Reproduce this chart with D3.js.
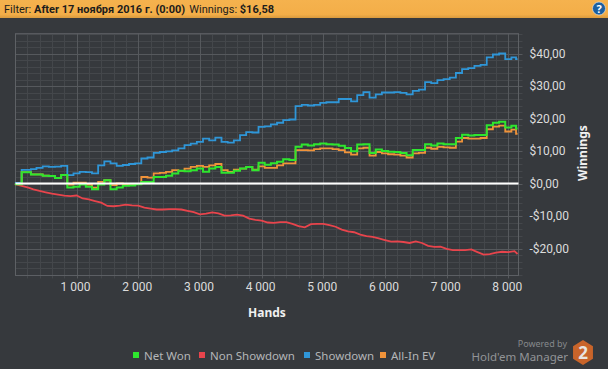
<!DOCTYPE html>
<html>
<head>
<meta charset="utf-8">
<script src="https://cdn.jsdelivr.net/npm/d3@7"></script>
<style>
  html, body { margin: 0; padding: 0; background: #36393d; }
  svg { display: block; font-family: "Noto Sans", sans-serif; }
</style>
</head>
<body>
<div id="chart"></div>
<script>
//data
var hands = [0,220,300,400,500,600,700,800,900,1000,1100,1200,1300,1400,1500,1600,1700,1800,1900,
  2000,2100,2200,2300,2400,2500,2600,2700,2800,2900,3000,3100,3200,3300,3400,3500,3600,3700,3800,3900,
  4000,4100,4200,4300,4400,4500,4600,4700,4800,4900,5000,5100,5200,5300,5400,5500,5600,5700,5800,5900,
  6000,6100,6200,6300,6400,6500,6600,6700,6800,6900,7000,7100,7200,7300,7400,7500,7600,7700,7800,7900,
  8000,8100,8150];

var netWon = [-0.2,3.5,2.8,2.8,2.4,2.3,1.7,2.6,-1.2,-1,-0.3,-1,-1.8,-0.3,1,-1.8,-1.2,-0.7,-0.6,
  -0.2,0.5,0.5,2,2,2.4,3.1,3.9,3.8,4.1,4.6,3.6,4.6,5.1,3.3,3.3,3.9,4.6,5.1,4.1,
  6.4,5.8,6.2,6.7,7.5,7.2,11.3,12,11.7,12.1,12.3,12.1,12,11.6,10.9,9.9,12,12.1,9.4,10.5,
  10,9.8,9.7,9.4,8.7,10.3,10.3,12.1,11.7,12.3,12.1,12.1,14,15,14.8,14.9,14.9,17.9,18.7,19,
  17.2,17.8,16.9];

var nonShowdown = [-0.2,-1.3,-1.8,-2.3,-2.7,-3.1,-3.4,-3.7,-3.9,-3.7,-4.6,-4.9,-5.4,-5.9,-6.9,-7,-6.8,-6.5,-6.7,
  -6.8,-7.4,-7.7,-8,-8,-7.9,-7.9,-8,-8.4,-8.8,-9.5,-9.3,-8.9,-9.2,-9.9,-9.8,-9.6,-9.9,-10.8,-11.2,
  -11.4,-12,-12.1,-11.9,-11.9,-12.4,-13.1,-13.5,-12.5,-12.4,-12.4,-12.8,-13.3,-14.2,-14.7,-15,-15.7,-16.2,-16.4,-16.9,
  -17.4,-17.9,-17.8,-18,-18.3,-17.8,-18.3,-19.2,-19.5,-19.4,-20.1,-20.5,-20.5,-20.5,-20.3,-21.1,-21.9,-21.7,-21.3,-21,
  -21.1,-20.8,-21.7];

var showdown = [0.2,4.2,4.4,4.8,5.3,5.1,5.2,5.4,2.6,3.1,3.6,3.5,3.1,5.6,6.8,6.2,5.4,5.7,6,
  6.2,7.7,8,9.4,9.7,9.9,10.2,10.8,11.8,12.3,12.8,13.8,13.3,14.1,12.8,12.6,13.3,14.9,15.8,15.7,
  17.4,17.6,18.2,18.7,19.5,19.7,23.8,24.2,24,24.2,24.8,25,25,26,26,25.3,27.2,28.1,26.4,27.4,
  28,28,28.1,27.9,27.4,28.5,28.9,31.2,30.9,31.8,32.1,32.6,34,35.2,35.5,36.2,36.5,38.8,39.7,40,
  38.3,38.8,38.3];

var allInEv = [-0.2,3.5,2.8,2.8,2.4,2.3,1.7,2.6,-0.3,0.3,0.3,-0.3,-1.3,0.5,1,-0.5,0,-0.3,-0.5,
  -0.2,2,1.8,3.1,3.3,3.6,4.1,3.9,4.6,5.1,5.4,5.1,5.6,6,4.1,3.6,4.3,4.6,5.1,4.3,
  5.3,4.8,4.8,5.6,6.2,6.2,10.3,10.3,10.2,10.6,10.8,10.8,10.6,10.3,9.6,8.9,10.8,11,8.6,9.7,
  9.3,9,8.9,8.6,8,9.3,9.4,11,10.7,11.3,11.1,11,12.9,14,13.8,13.8,14,16.7,17.5,17.8,
  16,16.6,15.3];

var xTicks = [1000,2000,3000,4000,5000,6000,7000,8000];
var yTicks = [40,30,20,10,0,-10,-20];
var xMinor = [200,400,600,800,1200,1400,1600,1800,2200,2400,2600,2800,3200,3400,3600,3800,
  4200,4400,4600,4800,5200,5400,5600,5800,6200,6400,6600,6800,7200,7400,7600,7800];
var yMinor = [46,44,42,38,36,34,32,28,26,24,22,18,16,14,12,8,6,4,2,-2,-4,-6,-8,-12,-14,-16,-18,-22,-24,-26,-28];

var seriesNames = ['Net Won', 'Non Showdown', 'Showdown', 'All-In EV'];
var seriesColors = ['#2ee62e', '#e8444c', '#2f96d8', '#f0933a'];

var w = 608;
var h = 369;

var svg = d3.select('#chart')
  .append('svg')
  .attr('width', w)
  .attr('height', h);

//header bar
var grad = svg.append('defs').append('linearGradient')
  .attr('id', 'headerGrad')
  .attr('x1', 0).attr('y1', 0).attr('x2', 0).attr('y2', 1);
grad.append('stop').attr('offset', '0%').attr('stop-color', '#f5b24e');
grad.append('stop').attr('offset', '80%').attr('stop-color', '#f3ae48');
grad.append('stop').attr('offset', '100%').attr('stop-color', '#d99a3e');

svg.append('rect')
  .attr('width', w)
  .attr('height', 18)
  .attr('fill', 'url(#headerGrad)');

var header = svg.append('text')
  .attr('x', 4)
  .attr('y', 13)
  .attr('font-family', 'Roboto, sans-serif')
  .attr('font-size', 11)
  .attr('fill', '#1c1c1c');
header.append('tspan').text('Filter: ');
header.append('tspan').attr('font-weight', 700).text('After 17 ноября 2016 г. (0:00)');
header.append('tspan').attr('dx', 4).text('Winnings: ');
header.append('tspan').attr('font-weight', 700).text('$16,58');

//help button
svg.append('circle')
  .attr('cx', 599).attr('cy', 8.5).attr('r', 6.5)
  .attr('fill', '#1b5fa0')
  .attr('stroke', '#dfe8ef')
  .attr('stroke-width', 0.6);
svg.append('text')
  .attr('x', 599).attr('y', 12.5)
  .attr('text-anchor', 'middle')
  .attr('font-size', 11)
  .attr('font-weight', 700)
  .attr('fill', '#ffffff')
  .text('?');

//scales
var xScale = d3.scaleLinear().domain([10, 8165]).range([15.5, 518.5]);
var yScale = d3.scaleLinear().domain([40, -20]).range([53.5, 248.5]);
var x0 = 15.5, x1 = 518.5;
var y0 = yScale(46.1), y1 = yScale(-28.3);

//grid
var grid = svg.append('g');
grid.selectAll('line.minorX').data(xMinor).enter().append('line')
  .attr('class', 'minorX')
  .attr('x1', function(d) { return Math.round(xScale(d)) + 0.5; })
  .attr('x2', function(d) { return Math.round(xScale(d)) + 0.5; })
  .attr('y1', y0).attr('y2', y1 + 3)
  .attr('stroke', '#44474b');
grid.selectAll('line.minorY').data(yMinor).enter().append('line')
  .attr('class', 'minorY')
  .attr('x1', x0).attr('x2', x1 + 4)
  .attr('y1', function(d) { return Math.round(yScale(d)) + 0.5; })
  .attr('y2', function(d) { return Math.round(yScale(d)) + 0.5; })
  .attr('stroke', '#44474b');
grid.selectAll('line.majorX').data(xTicks).enter().append('line')
  .attr('class', 'majorX')
  .attr('x1', function(d) { return Math.round(xScale(d)) + 0.5; })
  .attr('x2', function(d) { return Math.round(xScale(d)) + 0.5; })
  .attr('y1', y0).attr('y2', y1 + 3)
  .attr('stroke', '#56595d');
grid.selectAll('line.majorY').data(yTicks).enter().append('line')
  .attr('class', 'majorY')
  .attr('x1', x0).attr('x2', x1 + 4)
  .attr('y1', function(d) { return Math.round(yScale(d)) + 0.5; })
  .attr('y2', function(d) { return Math.round(yScale(d)) + 0.5; })
  .attr('stroke', '#56595d');
svg.append('rect')
  .attr('x', x0).attr('y', y0)
  .attr('width', x1 - x0).attr('height', y1 - y0)
  .attr('fill', 'none')
  .attr('stroke', '#5e6165');

//series, the jump sits between two readings
var stepLine = d3.line()
  .x(function(d, i) { return xScale(hands[i]); })
  .y(function(d) { return yScale(d); })
  .curve(d3.curveStep);

var plainLine = d3.line()
  .x(function(d, i) { return xScale(hands[i]); })
  .y(function(d) { return yScale(d); });

svg.append('path')
  .attr('d', plainLine(nonShowdown))
  .attr('fill', 'none')
  .attr('stroke', seriesColors[1])
  .attr('stroke-width', 1.8);
svg.append('path')
  .attr('d', stepLine(showdown))
  .attr('fill', 'none')
  .attr('stroke', seriesColors[2])
  .attr('stroke-width', 1.8);
svg.append('path')
  .attr('d', stepLine(allInEv))
  .attr('fill', 'none')
  .attr('stroke', seriesColors[3])
  .attr('stroke-width', 1.8);
svg.append('path')
  .attr('d', stepLine(netWon))
  .attr('fill', 'none')
  .attr('stroke', seriesColors[0])
  .attr('stroke-width', 2);

//zero line
svg.append('line')
  .attr('x1', x0).attr('x2', x1)
  .attr('y1', yScale(0)).attr('y2', yScale(0))
  .attr('stroke', '#ffffff')
  .attr('stroke-width', 2);

//axes
var xAxis = d3.axisBottom(xScale)
  .tickValues(xTicks)
  .tickSize(0)
  .tickPadding(0)
  .tickFormat(function(d) { return d3.format(',')(d).replace(',', ' '); });

var yAxis = d3.axisRight(yScale)
  .tickValues(yTicks)
  .tickSize(0)
  .tickPadding(0)
  .tickFormat(function(d) { return (d < 0 ? '-$' : '$') + Math.abs(d) + ',00'; });

var xG = svg.append('g')
  .attr('transform', 'translate(-1.5,' + 282 + ')')
  .call(xAxis);
var yG = svg.append('g')
  .attr('transform', 'translate(529.5,0)')
  .call(yAxis);
[xG, yG].forEach(function(g) {
  g.select('.domain').remove();
  g.selectAll('text')
    .attr('font-family', 'Roboto, sans-serif')
    .attr('font-size', 12)
    .attr('fill', '#dcdcdc');
});

svg.append('text')
  .attr('x', 267).attr('y', 317)
  .attr('text-anchor', 'middle')
  .attr('font-size', 12)
  .attr('font-weight', 700)
  .attr('fill', '#f0f0f0')
  .text('Hands');

svg.append('text')
  .attr('transform', 'translate(587,153) rotate(-90)')
  .attr('text-anchor', 'middle')
  .attr('font-size', 12)
  .attr('font-weight', 700)
  .attr('fill', '#f0f0f0')
  .text('Winnings');

//legend
var legendX = [133, 199, 304, 380];
var legend = svg.selectAll('g.legend')
  .data(seriesNames)
  .enter()
  .append('g')
  .attr('class', 'legend')
  .attr('transform', function(d, i) { return 'translate(' + legendX[i] + ',352)'; });
legend.append('rect')
  .attr('width', 6).attr('height', 6)
  .attr('fill', function(d, i) { return seriesColors[i]; });
legend.append('text')
  .attr('x', 11).attr('y', 8)
  .attr('font-size', 11.5)
  .attr('fill', '#b4b6b8')
  .text(function(d) { return d; });

//branding
svg.append('text')
  .attr('x', 567).attr('y', 347)
  .attr('text-anchor', 'end')
  .attr('font-size', 9)
  .attr('fill', '#85888b')
  .text('Powered by');
svg.append('text')
  .attr('x', 568).attr('y', 361)
  .attr('text-anchor', 'end')
  .attr('font-size', 11.5)
  .attr('fill', '#929497')
  .text("Hold'em Manager");

var hex = d3.range(6).map(function(i) {
  var a = Math.PI / 3 * i - Math.PI / 2;
  return [583 + 11.5 * Math.cos(a), 352.5 + 12.5 * Math.sin(a)];
});
svg.append('path')
  .attr('d', d3.line()(hex) + 'Z')
  .attr('fill', '#c8642a');
svg.append('text')
  .attr('x', 583).attr('y', 358.5)
  .attr('text-anchor', 'middle')
  .attr('font-size', 17)
  .attr('font-weight', 700)
  .attr('fill', '#e8e4e0')
  .text('2');
</script>
</body>
</html>
